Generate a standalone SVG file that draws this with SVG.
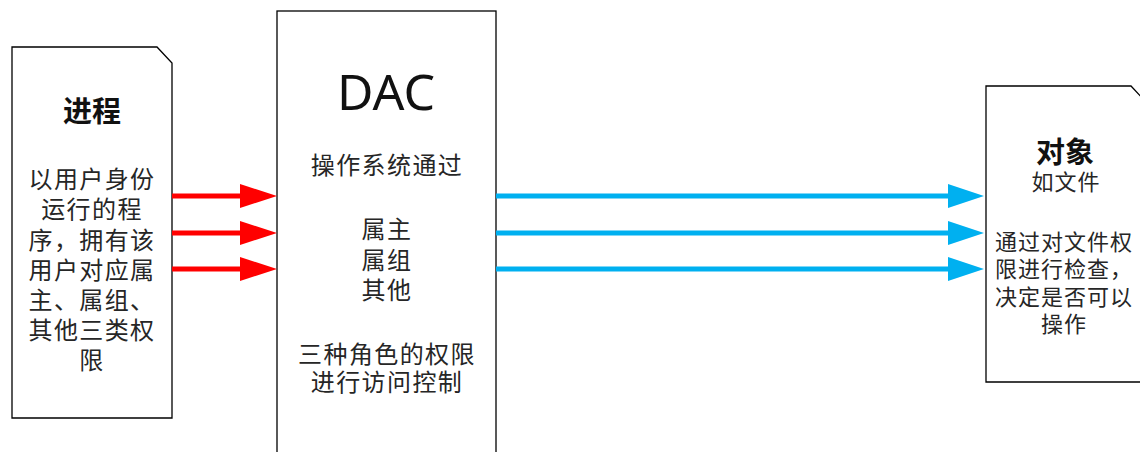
<svg xmlns="http://www.w3.org/2000/svg" width="1140" height="452" viewBox="0 0 1140 452">
<style>
.box{fill:#fff;stroke:#000;stroke-width:1.3}
.t{font-family:"Noto Sans CJK SC","Noto Sans",sans-serif;fill:#000;text-anchor:middle;dominant-baseline:central}
.b{font-size:24px;letter-spacing:1.4px;fill:#262626}
.s{font-size:22px;letter-spacing:1px;fill:#262626}
.h{font-size:29px;font-weight:bold;fill:#111}
.red{stroke:#FF0000;stroke-width:5;fill:none}
.blue{stroke:#00B0F0;stroke-width:5;fill:none}
</style>
<defs>
<marker id="ar" markerUnits="userSpaceOnUse" markerWidth="40" markerHeight="26" refX="2" refY="12" orient="auto" overflow="visible">
<path d="M0,0 L37,12 L0,24 Z" fill="#FF0000"/>
</marker>
<marker id="ab" markerUnits="userSpaceOnUse" markerWidth="40" markerHeight="26" refX="2" refY="12" orient="auto" overflow="visible">
<path d="M0,0 L36,12 L0,24 Z" fill="#00B0F0"/>
</marker>
</defs>
<g id="proc">
<path class="box" d="M12,47 H157 L172,63 V418 H12 Z"/>
<text class="t h" x="92" y="109">进程</text>
<text class="t b" x="92" y="177">以用户身份</text>
<text class="t b" x="92" y="207">运行的程</text>
<text class="t b" x="92" y="238">序，拥有该</text>
<text class="t b" x="92" y="268">用户对应属</text>
<text class="t b" x="92" y="298">主、属组、</text>
<text class="t b" x="92" y="328">其他三类权</text>
<text class="t b" x="92" y="358">限</text>
</g>
<g id="dac">
<rect class="box" x="277" y="11" width="219" height="460"/>
<text class="t" x="386" y="91" style="font-family:'Noto Sans','Open Sans',sans-serif;font-size:50px;fill:#111">DAC</text>
<text class="t b" x="387" y="163">操作系统通过</text>
<text class="t b" x="387" y="227">属主</text>
<text class="t b" x="387" y="258">属组</text>
<text class="t b" x="387" y="288">其他</text>
<text class="t b" x="387" y="352">三种角色的权限</text>
<text class="t b" x="387" y="380">进行访问控制</text>
</g>
<g id="obj">
<path class="box" d="M986,86 H1131 L1146,102 V382 H986 Z"/>
<text class="t h" x="1065" y="150">对象</text>
<text class="t s" x="1066" y="180">如文件</text>
<text class="t s" x="1064" y="240">通过对文件权</text>
<text class="t s" x="1064" y="267">限进行检查，</text>
<text class="t s" x="1064" y="295">决定是否可以</text>
<text class="t s" x="1064" y="322">操作</text>
</g>
<g id="connectors">
<line class="red" x1="172" y1="196" x2="242" y2="196" marker-end="url(#ar)"/>
<line class="red" x1="172" y1="233" x2="242" y2="233" marker-end="url(#ar)"/>
<line class="red" x1="172" y1="269" x2="242" y2="269" marker-end="url(#ar)"/>
<line class="blue" x1="496" y1="196" x2="950" y2="196" marker-end="url(#ab)"/>
<line class="blue" x1="496" y1="233" x2="950" y2="233" marker-end="url(#ab)"/>
<line class="blue" x1="496" y1="269" x2="950" y2="269" marker-end="url(#ab)"/>
</g>
</svg>
